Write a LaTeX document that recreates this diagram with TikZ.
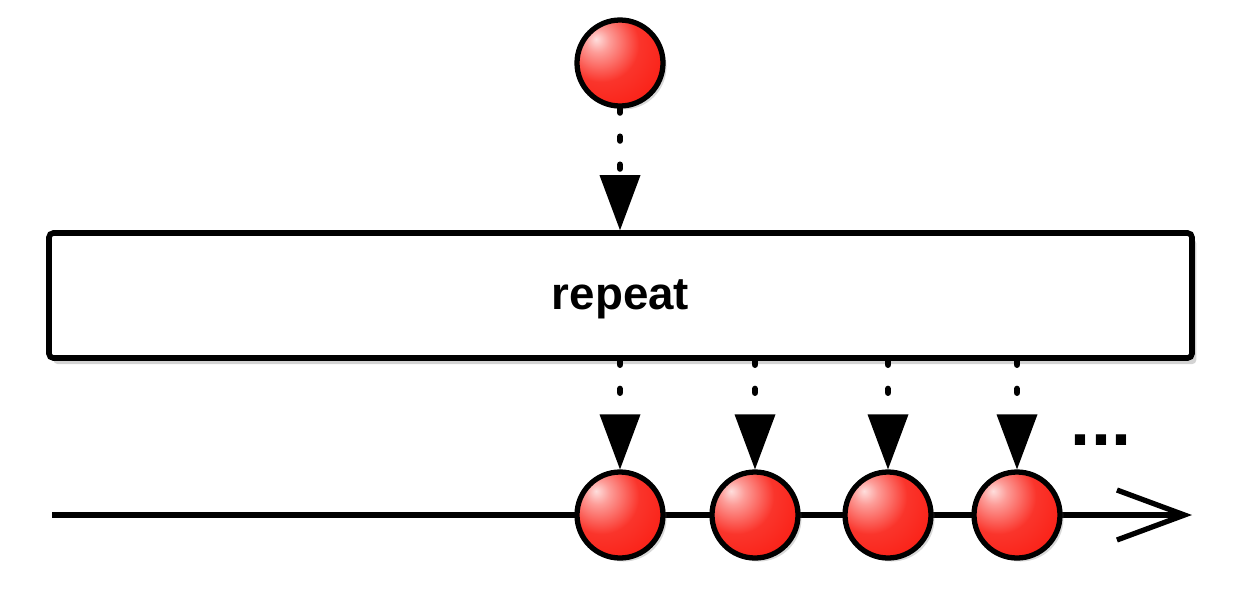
\documentclass[tikz,border=0pt]{standalone}
\usepackage{fontspec}
\setmainfont{Liberation Sans}
\usetikzlibrary{shadows,arrows.meta}
\definecolor{ballred}{RGB}{250,35,25}
\pgfdeclareradialshading{redball}{\pgfpoint{-14bp}{14bp}}{%
  color(0bp)=(white!85!ballred);
  color(7bp)=(ballred!45!white);
  color(22bp)=(ballred!92!white);
  color(36bp)=(ballred);
  color(48bp)=(ballred!80!black);
  color(60bp)=(ballred!55!black);
  color(100bp)=(ballred!40!black)}
\begin{document}
\begin{tikzpicture}[x=0.02cm,y=-0.02cm,
  ballnode/.style={circle,minimum size=86*0.02cm,inner sep=0pt,draw=black,line width=3pt,
    shading=redball,drop shadow={shadow xshift=2pt,shadow yshift=-2pt,opacity=0.3}},
  flow/.style={line width=3.6pt,line cap=round,dash pattern=on 0.08cm off 0.48cm,
    -{Triangle[width=0.82cm,length=1.1cm,line width=0pt]}},
  opbox/.style={draw=black,line width=3.2pt,rounded corners=2.5pt,fill=white,
    minimum width=1143*0.02cm,minimum height=125*0.02cm,inner sep=0pt,
    drop shadow={shadow xshift=2.5pt,shadow yshift=-3.5pt,opacity=0.35}},
  timeline/.style={line width=3pt,-{Straight Barb[length=1.35cm,width=1.0cm,line width=3pt]}}
]
\useasboundingbox (0,0) rectangle (1244,606);
% timeline
\coordinate (tl0) at (52,515);
\coordinate (tl1) at (1192,515);
\draw[timeline] (tl0) -- (tl1);
% operator box
\node[opbox] (box) at (620.5,295.5) {};
\node[font=\fontsize{26}{31}\selectfont\bfseries] (label) at (620.5,299) {repeat};
% top ball
\node[ballnode] (in) at (620,63) {};
\draw[flow] (in.south) -- (box.north -| in.south);
% output balls
\foreach \i/\x in {1/620,2/755,3/888,4/1017}{
  \node[ballnode] (out\i) at (\x,515) {};
  \draw[flow] (box.south -| out\i.north) -- (out\i.north);
}
% dots
\node[font=\fontsize{41}{48}\selectfont\bfseries,inner sep=0pt] (dots) at (1101,440) {...};
\end{tikzpicture}
\end{document}
